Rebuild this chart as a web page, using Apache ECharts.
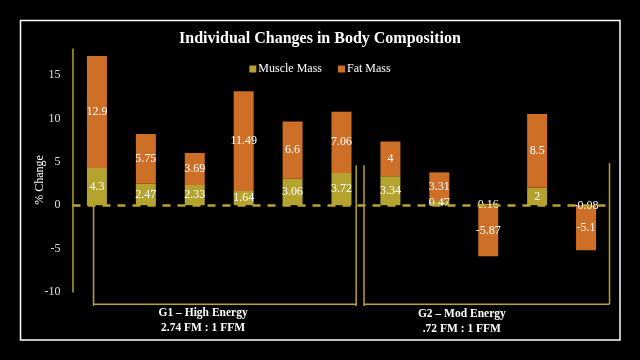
<!DOCTYPE html>
<html><head><meta charset="utf-8">
<script src="https://cdn.jsdelivr.net/npm/echarts@6/dist/echarts.min.js"></script>
<style>html,body{margin:0;padding:0;background:#000;}#c{width:640px;height:360px;}</style>
</head><body><div id="c"></div>
<script>
var categories = ['S1','S2','S3','S4','S5','S6','S7','S8','S9','S10','S11'];
var muscleMass = [4.3, 2.47, 2.33, 1.64, 3.06, 3.72, 3.34, 0.47, 0.16, 2, -0.08];
var fatMass = [12.9, 5.75, 3.69, 11.49, 6.6, 7.06, 4, 3.31, -5.87, 8.5, -5.1];
var groupLabels = ['G1 – High Energy\n2.74 FM : 1 FFM', 'G2 – Mod Energy\n.72 FM : 1 FFM'];
var yTicks = {min: -10, max: 18, interval: 5};

var FONT = '"Liberation Serif", "DejaVu Serif", serif';
var GOLD = '#B8A42E';
var chart = echarts.init(document.getElementById('c'), null, {renderer: 'canvas'});

var labelStyle = {show: true, position: 'inside', color: '#fff', fontFamily: FONT, fontSize: 12,
  formatter: function (p) { return String(p.value); }};

chart.setOption({
  backgroundColor: '#000',
  animation: false,
  title: {text: 'Individual Changes in Body Composition', left: 'center', top: 26,
    textStyle: {color: '#fff', fontFamily: FONT, fontSize: 16, fontWeight: 'bold'}},
  legend: {data: ['Muscle Mass', 'Fat Mass'], top: 58, left: 'center', itemWidth: 7, itemHeight: 7,
    itemGap: 16, icon: 'rect',
    textStyle: {color: '#fff', fontFamily: FONT, fontSize: 12, padding: [0, 0, 0, -3]}},
  grid: {left: 72.5, right: 29.5, top: 49, bottom: 68, containLabel: false},
  xAxis: {type: 'category', data: categories, axisLine: {show: false}, axisTick: {show: false},
    axisLabel: {show: false}, splitLine: {show: false}},
  yAxis: {type: 'value', min: yTicks.min, max: yTicks.max, interval: yTicks.interval,
    axisLine: {show: true, lineStyle: {color: GOLD, width: 1.5}}, axisTick: {show: false},
    splitLine: {show: false},
    axisLabel: {color: '#e0e0e0', fontFamily: FONT, fontSize: 12, margin: 12, showMaxLabel: false}},
  series: [
    {name: 'Muscle Mass', type: 'bar', stack: 'a', data: muscleMass, barWidth: 20,
      itemStyle: {color: '#B5A32F'}, label: labelStyle,
      markLine: {silent: true, symbol: 'none', label: {show: false},
        lineStyle: {color: GOLD, width: 2.5, type: [8, 7]},
        data: [{yAxis: 0}]}},
    {name: 'Fat Mass', type: 'bar', stack: 'a', data: fatMass, barWidth: 20,
      itemStyle: {color: '#CD6F27'}, label: labelStyle}
  ]
});

function cx(f) {
  var a = chart.convertToPixel({xAxisIndex: 0}, 0);
  var b = chart.convertToPixel({xAxisIndex: 0}, 1);
  return a + f * (b - a);
}
function cy(v) { return chart.convertToPixel({yAxisIndex: 0}, v); }

var lineStyle = {stroke: GOLD, lineWidth: 1.5};
function seg(x1, y1, x2, y2) {
  return {type: 'line', shape: {x1: x1, y1: y1, x2: x2, y2: y2}, style: lineStyle, z: -1, silent: true};
}
var yTop = cy(4.6), yBot = cy(-11.6), yH = cy(-11.4);
var gx = [cx(-0.07), cx(5.3), cx(5.46), cx(10.48)];
var elements = [
  seg(gx[0], yTop, gx[0], yBot), seg(gx[1], yTop, gx[1], yBot),
  seg(gx[0], yH, gx[1], yH),
  seg(gx[2], yTop, gx[2], yBot), seg(gx[3], cy(4.84), gx[3], yH),
  seg(gx[2], yH, gx[3], yH),
  {type: 'text', x: cx(2.17), y: 321, style: {text: groupLabels[0], fill: '#fff', font: 'bold 11.5px ' + FONT,
    textAlign: 'center', textVerticalAlign: 'middle', lineHeight: 15}},
  {type: 'text', x: cx(7.46), y: 322, style: {text: groupLabels[1], fill: '#fff', font: 'bold 11.5px ' + FONT,
    textAlign: 'center', textVerticalAlign: 'middle', lineHeight: 15}},
  {type: 'text', x: 40, y: 180, rotation: Math.PI / 2, style: {text: '% Change', fill: '#fff',
    font: '12px ' + FONT, textAlign: 'center', textVerticalAlign: 'middle'}},
  {type: 'rect', shape: {x: 20.5, y: 20.5, width: 599.5, height: 319.5},
    style: {fill: 'none', stroke: '#fff', lineWidth: 1.5}, silent: true}
];
chart.setOption({graphic: {elements: elements}});
</script></body></html>
